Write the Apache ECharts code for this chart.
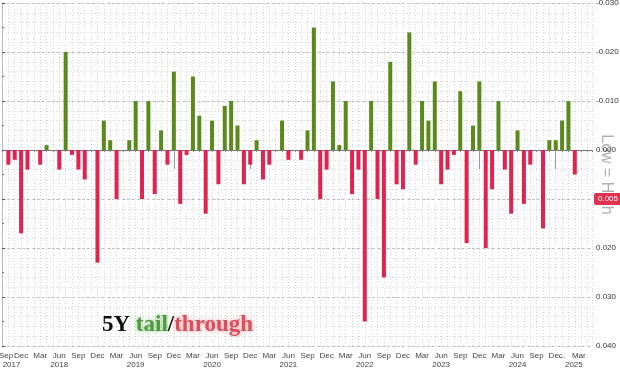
<!DOCTYPE html>
<html><head><meta charset="utf-8">
<script src="https://cdn.jsdelivr.net/npm/echarts@6/dist/echarts.min.js"></script>
<style>html,body{margin:0;padding:0;background:#fff}#c{width:620px;height:369px}</style>
</head><body><div id="c"></div>
<script>
// x axis: month-end index, 0 = end of Sep 2017
const monthNames = ['Sep','Oct','Nov','Dec','Jan','Feb','Mar','Apr','May','Jun','Jul','Aug'];
const startYear = 2017;
// 5Y auction tail (-) / stop-through (+), one value per auction month, Oct 2017 .. Mar 2025
const auctionValues = [
  0.003, 0.002, 0.017, 0.004, 0, 0.003, -0.001, 0, 0.004, -0.020,
  0.001, 0.004, 0.006, 0, 0.023, -0.006, -0.002, 0.010, 0, -0.002,
  -0.010, 0.010, -0.010, 0.009, -0.004, 0.003, -0.016, 0.011, 0.001, -0.015,
  -0.007, 0.013, -0.006, 0.007, -0.009, -0.010, -0.005, 0.007, 0.003, -0.002,
  0.006, 0.003, 0, -0.006, 0.002, 0, 0.002, -0.004, -0.025, 0.010,
  0.004, -0.014, -0.001, -0.010, 0.009, 0.004, 0.035, -0.010, 0.010, 0.026,
  -0.018, 0.007, 0.008, -0.024, 0.003, -0.010, -0.006, -0.014, 0.007, 0.004,
  0.001, -0.012, 0.019, -0.005, -0.014, 0.020, 0.008, -0.010, 0.004, 0.013,
  -0.004, 0.011, 0.003, 0, 0.016, -0.002, -0.002, -0.006, -0.010, 0.005
];
// month-end index of each auction month (Oct 2017 = 1)
const auctionIndex = auctionValues.map((v, i) => i + 1);
// tick labels
const monthTickIdx = [0,3,6,9,12,15,18,21,24,27,30,33,36,39,42,45,48,51,54,57,60,63,66,69,72,75,78,81,84,87,88,90];
const monthTickText = monthTickIdx.map(i => i === 88 ? '...' : monthNames[i % 12]);
const years = ['2017','2018','2019','2020','2021','2022','2023','2024','2025'];
const yearEndIdx = [3,15,27,39,51,63,75,87];   // December month ends (year boundaries)
const yTicks = [-0.03,-0.02,-0.01,0,0.01,0.02,0.03,0.04];

const xMax = 92.7;
const bounds = [0].concat(yearEndIdx).concat([xMax]);
const yearCenters = years.map((y, i) => (bounds[i] + bounds[i + 1]) / 2);

const GREEN = '#5a8a1c', RED = '#e0234f';
const chart = echarts.init(document.getElementById('c'), null, {renderer: 'canvas'});
const lastVal = auctionValues[auctionValues.length - 1];

chart.setOption({
  animation: false,
  backgroundColor: '#ffffff',
  textStyle: {fontFamily: 'Liberation Sans'},
  title: {
    text: '{a|5Y }{b|tail}{a|/}{c|through}',
    left: 97, top: 309,
    textStyle: {
      rich: {
        a: {fontFamily: 'Liberation Serif', fontWeight: 'bold', fontSize: 23, color: '#111'},
        b: {fontFamily: 'Liberation Serif', fontWeight: 'bold', fontSize: 23, color: '#4f9a3e',
            textShadowColor: 'rgba(90,170,80,0.7)', textShadowBlur: 4},
        c: {fontFamily: 'Liberation Serif', fontWeight: 'bold', fontSize: 23, color: '#d8505f',
            textShadowColor: 'rgba(230,110,120,0.7)', textShadowBlur: 4}
      }
    }
  },
  grid: {left: 2, right: 28, top: 3, bottom: 23, outerBoundsMode: 'none', containLabel: false},
  xAxis: [
    {
      type: 'value', min: 0, max: xMax, interval: 1, position: 'bottom', offset: 4,
      axisLine: {show: true, lineStyle: {color: '#777'}},
      axisTick: {show: true, length: 2, lineStyle: {color: '#888'}},
      splitLine: {show: true, lineStyle: {color: '#d6d6d6', type: [1, 2]}},
      axisLabel: {
        customValues: monthTickIdx, showMinLabel: true, showMaxLabel: true, hideOverlap: false,
        fontSize: 8, color: '#444', margin: 2,
        formatter: (v) => {
          const k = monthTickIdx.indexOf(Math.round(v));
          if (k < 0) return '';
          const t = monthTickText[k];
          if (k === 0 || k === monthTickIdx.length - 1) return '{p|' + t + '}';
          return t;
        },
        rich: {p: {fontSize: 8, color: '#444', padding: [0, 0, 0, 8]}}
      }
    },
    {
      type: 'value', min: 0, max: xMax, position: 'bottom', offset: 4,
      axisLine: {show: false},
      axisTick: {show: true, customValues: yearEndIdx, length: 19, lineStyle: {color: '#999'}},
      splitLine: {show: false},
      axisLabel: {
        customValues: yearCenters, showMinLabel: true, showMaxLabel: true,
        fontSize: 8, color: '#444', margin: 11,
        formatter: (v) => {
          let best = 0;
          yearCenters.forEach((c, i) => { if (Math.abs(c - v) < Math.abs(yearCenters[best] - v)) best = i; });
          return years[best];
        }
      }
    }
  ],
  yAxis: [
    {
      type: 'value', position: 'right', inverse: true, min: -0.03, max: 0.04, interval: 0.01,
      axisLine: {show: true, lineStyle: {color: '#bbb'}},
      axisTick: {show: true, length: 3, lineStyle: {color: '#555'}},
      minorTick: {show: true, splitNumber: 2, length: 2, lineStyle: {color: '#777'}},
      splitLine: {show: true, lineStyle: {color: '#bdbdbd', type: [3, 2]}},
      axisLabel: {fontSize: 8, color: '#333', margin: 4, showMinLabel: true, showMaxLabel: true,
        formatter: (v) => { const i = yTicks.findIndex(t => Math.abs(t - v) < 1e-9); return i < 0 ? '' : yTicks[i].toFixed(3); }},
      name: 'Low = High', nameLocation: 'middle', nameRotate: -90, nameGap: 6, nameMoveOverlap: false,
      nameTextStyle: {color: '#b0b0b0', fontSize: 16}
    },
    {
      type: 'value', position: 'right', inverse: true, min: -0.03, max: 0.04, interval: 0.002,
      axisLine: {show: false}, axisTick: {show: false}, axisLabel: {show: false},
      splitLine: {show: true, lineStyle: {color: '#d6d6d6', type: [1, 2]}}
    }
  ],
  series: [{
    type: 'bar',
    xAxisIndex: 0, yAxisIndex: 0,
    barWidth: 4,
    data: auctionValues.map((v, i) => [auctionIndex[i], v]),
    itemStyle: {color: (p) => p.value[1] < 0 ? GREEN : RED},
    markLine: {
      silent: true, symbol: 'none',
      lineStyle: {color: 'rgba(0,0,0,0)', width: 0},
      label: {position: 'end', distance: 2, formatter: () => lastVal.toFixed(3),
        color: '#fff', backgroundColor: '#e3304f', fontSize: 8, padding: [2, 4, 2, 4], borderRadius: 2},
      data: [{yAxis: lastVal}]
    }
  }]
});
</script></body></html>
